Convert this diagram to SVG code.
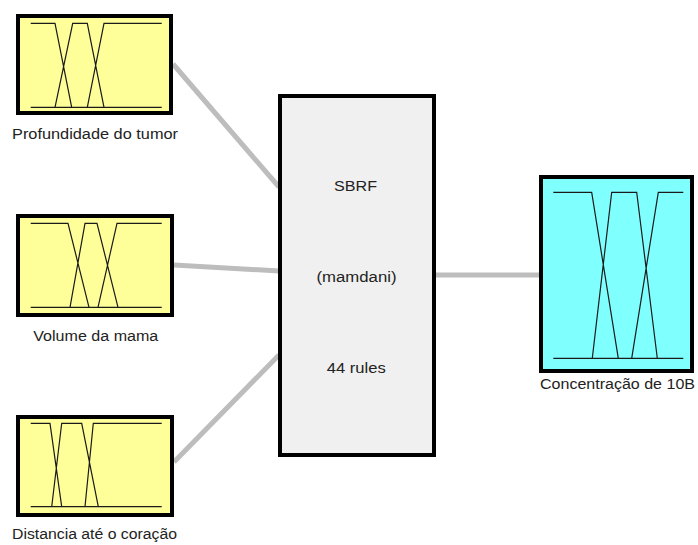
<svg xmlns="http://www.w3.org/2000/svg" width="698" height="545" viewBox="0 0 698 545">
<style>
.box{stroke:#000;stroke-width:4}
.in{fill:#ffff99}
.out{fill:#80ffff}
.sys{fill:#f0f0f0}
.mf{fill:none;stroke:#1a1a1a;stroke-width:1.2}
.lbl{font-family:"Liberation Sans",Arial,sans-serif;font-size:14px;fill:#222;text-anchor:middle}
.conn{stroke:#bdbdbd;stroke-width:5;fill:none}
</style>
<rect width="698" height="545" fill="#fff"/>
<g id="connectors">
<line class="conn" x1="173" y1="64" x2="279" y2="187"/>
<line class="conn" x1="174" y1="265" x2="279" y2="271"/>
<line class="conn" x1="174" y1="462" x2="279" y2="355"/>
<line class="conn" x1="436" y1="275" x2="539" y2="275"/>
</g>
<g id="in1">
<rect class="box in" x="18" y="16" width="153" height="97"/>
<path class="mf" d="M30.7 23.3H55L71.7 107.3M55 107.3L72.7 23.3H87.3L104 107.3M87.3 107.3L104 23.3H161.7M30.7 107.3H161.7"/>
<text class="lbl" x="95" y="139" textLength="166" lengthAdjust="spacingAndGlyphs">Profundidade do tumor</text>
</g>
<g id="in2">
<rect class="box in" x="18" y="216" width="154" height="99"/>
<path class="mf" d="M30.7 223.3H68L89 307.3M70 307.3L85 223.3H97L118 307.3M98 307.3L117 223.3H161.7M30.7 307.3H161.7"/>
<text class="lbl" x="95.8" y="340.5" textLength="125" lengthAdjust="spacingAndGlyphs">Volume da mama</text>
</g>
<g id="in3">
<rect class="box in" x="18" y="417" width="154" height="98"/>
<path class="mf" d="M30.7 423.3H50L61.7 506.7M51.7 506.7L61.7 423.3H81.7L98.3 506.7M85 506.7L93.3 423.3H161.7M30.7 506.7H161.7"/>
<text class="lbl" x="94.5" y="539" textLength="165" lengthAdjust="spacingAndGlyphs">Distancia até o coração</text>
</g>
<g id="sbrf">
<rect class="box sys" x="280" y="96" width="154" height="359"/>
<text class="lbl" x="355.5" y="190.7" textLength="43" lengthAdjust="spacingAndGlyphs">SBRF</text>
<text class="lbl" x="356.5" y="282" textLength="80" lengthAdjust="spacingAndGlyphs">(mamdani)</text>
<text class="lbl" x="356.3" y="373" textLength="59" lengthAdjust="spacingAndGlyphs">44 rules</text>
</g>
<g id="out1">
<rect class="box out" x="541" y="177" width="151" height="194"/>
<path class="mf" d="M553.3 192.3H591.7L618.3 358.3M592.3 358.3L611.7 192.3H636.7L657.3 358.3M631.7 358.3L658.3 192.3H683.3M553.3 358.3H683.3"/>
<text class="lbl" x="617.5" y="389" textLength="155" lengthAdjust="spacingAndGlyphs">Concentração de 10B</text>
</g>
</svg>
